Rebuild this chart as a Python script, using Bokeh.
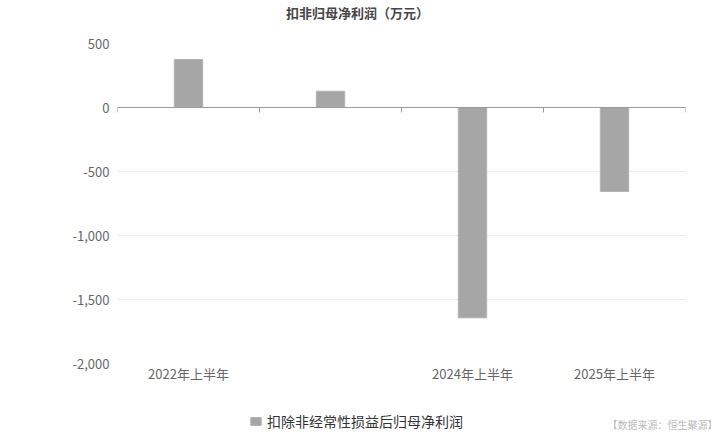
from bokeh.plotting import figure
from bokeh.layouts import column
from bokeh.models import (ColumnDataSource, Range1d, FixedTicker, LinearAxis,
                          NumeralTickFormatter, Legend, LegendItem, Label)
from bokeh.embed import file_html
from bokeh.resources import INLINE

# ---- data ----
categories = ["2022年上半年", "2023年上半年", "2024年上半年", "2025年上半年"]
shown_labels = ["2022年上半年", "", "2024年上半年", "2025年上半年"]
values = [375, 127, -1643, -656]
y_ticks = [-2000, -1500, -1000, -500, 0, 500]
series_name = "扣除非经常性损益后归母净利润"
title_text = "扣非归母净利润（万元）"
source_text = "【数据来源：恒生聚源】"

FONT = "Noto Sans CJK SC"
BAR_FILL = "#a6a6a6"
BAR_LINE = "#b3b3b3"

x_pos = [i + 0.5 for i in range(len(categories))]
src = ColumnDataSource(dict(x=x_pos, v=values, cat=categories))

# ---- header with title ----
head = figure(output_backend="svg", toolbar_location=None,
              width=720, height=25, min_border=0,
              x_range=Range1d(0, 720), y_range=Range1d(0, 25),
              x_axis_location=None, y_axis_location=None)
head.frame_align = False
head.outline_line_color = None
head.xgrid.grid_line_color = None
head.ygrid.grid_line_color = None
head.title.visible = False
head.add_layout(Label(x=357, y=13, x_units="screen", y_units="screen", text=title_text,
                      text_font=FONT, text_font_size="13px", text_font_style="bold",
                      text_color="#464646", text_align="center", text_baseline="middle"))

# ---- main chart ----
p = figure(output_backend="svg", toolbar_location=None,
           frame_width=568, frame_height=320,
           min_border_left=117, min_border_right=35,
           min_border_top=18, min_border_bottom=29,
           x_range=Range1d(0, len(categories)), y_range=Range1d(y_ticks[0], y_ticks[-1]))
p.outline_line_color = None
p.background_fill_color = "white"
p.frame_align = False
p.title.visible = False

# bottom category labels (only the ones the chart shows)
shown_pos = [x for x, lab in zip(x_pos, shown_labels) if lab]
xa = p.xaxis[0]
xa.ticker = FixedTicker(ticks=shown_pos)
xa.major_label_overrides = {x: lab for x, lab in zip(x_pos, shown_labels) if lab}
xa.axis_line_color = None
xa.major_tick_line_color = None
xa.major_tick_out = 0
xa.major_tick_in = 0
xa.minor_tick_line_color = None
xa.major_label_text_font = FONT
xa.major_label_text_font_size = "13px"
xa.major_label_text_color = "#666666"
xa.major_label_standoff = 0

# zero line axis with boundary ticks
za = LinearAxis(fixed_location=0, ticker=FixedTicker(ticks=list(range(len(categories) + 1))),
                axis_line_color="#9a9a9a", major_tick_line_color="#9a9a9a",
                major_tick_out=5, major_tick_in=0, minor_tick_line_color=None,
                major_label_text_color=None, major_label_text_font_size="1px",
                major_label_standoff=0)
p.add_layout(za, "below")

# y axis
ya = p.yaxis[0]
ya.ticker = FixedTicker(ticks=y_ticks)
ya.formatter = NumeralTickFormatter(format="0,0")
ya.axis_line_color = None
ya.major_tick_line_color = None
ya.major_tick_out = 0
ya.major_tick_in = 0
ya.minor_tick_line_color = None
ya.major_label_text_font = FONT
ya.major_label_text_font_size = "13px"
ya.major_label_text_color = "#666666"
ya.major_label_standoff = 8

p.xgrid.grid_line_color = None
p.ygrid.ticker = FixedTicker(ticks=y_ticks)
p.ygrid.grid_line_color = "#ebebf0"
p.ygrid.grid_line_width = 1

p.vbar(x="x", top="v", bottom=0, width=0.2, source=src,
       fill_color=BAR_FILL, line_color=BAR_LINE, line_width=1)

# ---- footer with legend and source note ----
foot = figure(output_backend="svg", toolbar_location=None,
              width=720, height=40, min_border=0,
              x_range=Range1d(0, 720), y_range=Range1d(0, 40),
              x_axis_location=None, y_axis_location=None)
foot.frame_align = False
foot.outline_line_color = None
foot.xgrid.grid_line_color = None
foot.ygrid.grid_line_color = None
foot.title.visible = False
# legend proxy: same series, hidden, only used to draw the legend swatch
proxy = foot.vbar(x="x", top="v", width=0.2, source=src,
                  fill_color=BAR_FILL, line_color=BAR_LINE, visible=False)

legend = Legend(items=[LegendItem(label=series_name, renderers=[proxy])],
                location=(249, 1), orientation="horizontal",
                padding=0, margin=0, border_line_alpha=0, background_fill_alpha=0,
                inactive_fill_alpha=0,
                label_text_font=FONT, label_text_font_size="14px", label_text_color="#333333",
                glyph_width=13, glyph_height=10, label_standoff=5, label_height=14)
foot.add_layout(legend, "center")

foot.add_layout(Label(x=717, y=8, x_units="screen", y_units="screen", text=source_text,
                      text_font=FONT, text_font_size="10px", text_color="#bbbbbb",
                      text_align="right", text_baseline="middle"))

layout = column(head, p, foot, spacing=0)
open("out.html", "w").write(file_html(layout, INLINE))
